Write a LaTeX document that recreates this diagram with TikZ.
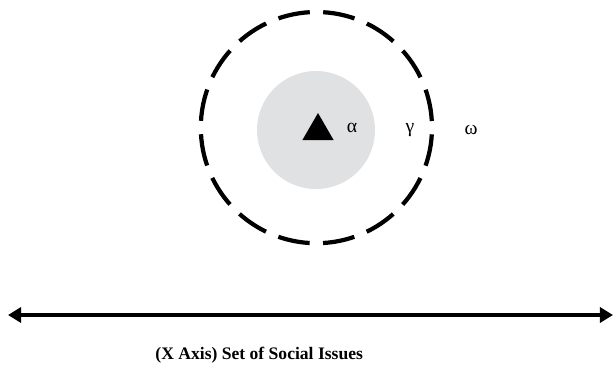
\documentclass[tikz,border=0pt]{standalone}
\usepackage{fontspec}
\setmainfont{Liberation Serif}
\usepackage{tikz}
\usetikzlibrary{arrows.meta,positioning,shapes.geometric}
\definecolor{SGray}{HTML}{E0E1E2}
\definecolor{SInk}{HTML}{000000}

\begin{document}
\begin{tikzpicture}[>=Latex,
    greek/.style={font=\fontsize{14}{16}\selectfont,text=SInk,inner sep=0pt}]
    \useasboundingbox (0,0) rectangle (15.325,-9.225);

    \node[circle,draw=SInk,line width=3pt,dash pattern=on 0.8cm off 0.335cm,dash phase=0.97cm,minimum size=5.78cm] (scope) at (7.91,-3.19) {};
    \node[circle,fill=SGray,minimum size=2.95cm] (core) at (7.9,-3.25) {};
    \node[regular polygon,regular polygon sides=3,fill=SInk,inner sep=0pt,minimum size=0.9cm] (actor) at (7.95,-3.275) {};

    \node[greek] (alpha) at (8.8,-3.2) {α};
    \node[greek] (gamma) at (10.25,-3.25) {γ};
    \node[greek] (omega) at (11.78,-3.25) {ω};

    \coordinate (xleft) at (0.2,-7.875);
    \coordinate (xright) at (15.325,-7.875);
    \draw[{Triangle[length=0.33cm,width=0.38cm]}-{Triangle[length=0.33cm,width=0.38cm]},line width=2.85pt,SInk] (xleft) -- (xright);

    \node[font=\bfseries\fontsize{12.5}{14}\selectfont] (xlabel) at (6.48,-8.875) {(X Axis) Set of Social Issues};
  \end{tikzpicture}
\end{document}
